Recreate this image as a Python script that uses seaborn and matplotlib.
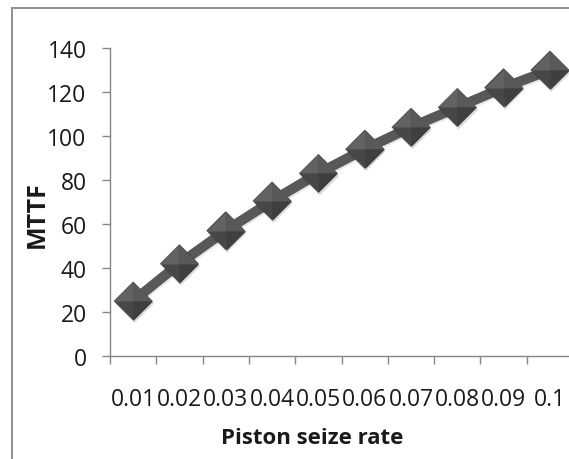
import numpy as np
import pandas as pd
import matplotlib
matplotlib.use("Agg")
import matplotlib.pyplot as plt
import seaborn as sns
from matplotlib.path import Path
from matplotlib.patches import Rectangle
import matplotlib.patheffects as pe

# ---- data ----
rate_labels = ["0.01", "0.02", "0.03", "0.04", "0.05", "0.06", "0.07", "0.08", "0.09", "0.1"]
mttf = [25, 42, 57, 70.5, 83, 94, 104, 113, 122, 130]
y_ticks = [0, 20, 40, 60, 80, 100, 120, 140]
x_title = "Piston seize rate"
y_title = "MTTF"

sns.set_theme(style="white")
plt.rcParams["font.family"] = ["Open Sans", "DejaVu Sans"]

W, H = 569, 460
fig = plt.figure(figsize=(W / 100, H / 100), dpi=100)
fig.patch.set_facecolor("white")

# outer chart-area border (partly cropped)
fig.add_artist(Rectangle((12 / W, -0.1), 1.2, 1.1 - 9 / H, transform=fig.transFigure,
                         fill=False, edgecolor="#878787", linewidth=1.3))

ax = fig.add_axes([110 / W, 1 - 357 / H, 463 / W, 308 / H])
ax.set_facecolor("white")
df = pd.DataFrame({"rate": rate_labels, "mttf": mttf})

sns.lineplot(data=df, x="rate", y="mttf", ax=ax, sort=False, color="#585858",
             linewidth=7.2, solid_capstyle="butt", zorder=2,
             path_effects=[pe.SimpleLineShadow(offset=(0.8, -1.2), alpha=0.1), pe.Normal()])

diamond = Path([(0, 1), (1, 0), (0, -1), (-1, 0), (0, 1)], closed=True)
facet_ul = Path([(-1, 0), (0, 1), (0, 0), (-1, 0)], closed=True)
facet_ur = Path([(0, 1), (1, 0), (0, 0), (0, 1)], closed=True)
facet_lr = Path([(1, 0), (0, -1), (0, 0), (1, 0)], closed=True)
S = 28 ** 2

sns.scatterplot(data=df, x="rate", y="mttf", ax=ax, marker=diamond, s=S, color="#474747",
                linewidth=0, zorder=3, legend=False,
                path_effects=[pe.SimplePatchShadow(offset=(1, -1.8), shadow_rgbFace="black", alpha=0.15),
                              pe.Normal()])
sns.scatterplot(data=df, x="rate", y="mttf", ax=ax, marker=facet_ul, s=S, color="#626262",
                linewidth=0, zorder=4, legend=False)
sns.scatterplot(data=df, x="rate", y="mttf", ax=ax, marker=facet_ur, s=S, color="#595959",
                linewidth=0, zorder=4, legend=False)
sns.scatterplot(data=df, x="rate", y="mttf", ax=ax, marker=facet_lr, s=S, color="#3f3f3f",
                linewidth=0, zorder=4, legend=False)

ax.set_xlim(-0.5, len(rate_labels) - 0.5)
ax.set_ylim(0, 140)
ax.set_yticks(y_ticks)
ax.set_xticks(range(len(rate_labels)))
ax.set_xticklabels(rate_labels)
ax.set_xticks(np.arange(-0.5, len(rate_labels), 1.0), minor=True)
ax.set_xlabel("")
ax.set_ylabel("")

for s in ["top", "right"]:
    ax.spines[s].set_visible(False)
for s in ["left", "bottom"]:
    ax.spines[s].set_color("#868686")
    ax.spines[s].set_linewidth(1.0)

ax.tick_params(axis="y", which="major", left=True, direction="out", length=5.8, width=1,
               color="#868686", pad=11, labelsize=16.5, labelcolor="#1a1a1a")
ax.tick_params(axis="x", which="major", bottom=True, length=0, pad=22,
               labelsize=16.5, labelcolor="#1a1a1a")
ax.tick_params(axis="x", which="minor", bottom=True, direction="out", length=5.8, width=1,
               color="#868686")

fig.text(312 / W, 1 - 439 / H, x_title, ha="center", va="center", fontsize=16,
         fontweight="bold", color="#1a1a1a")
fig.text(37 / W, 1 - 215 / H, y_title, ha="center", va="center", rotation=90,
         fontsize=18, fontweight="bold", color="#1a1a1a")

fig.savefig("out.png", dpi=100, facecolor="white")
